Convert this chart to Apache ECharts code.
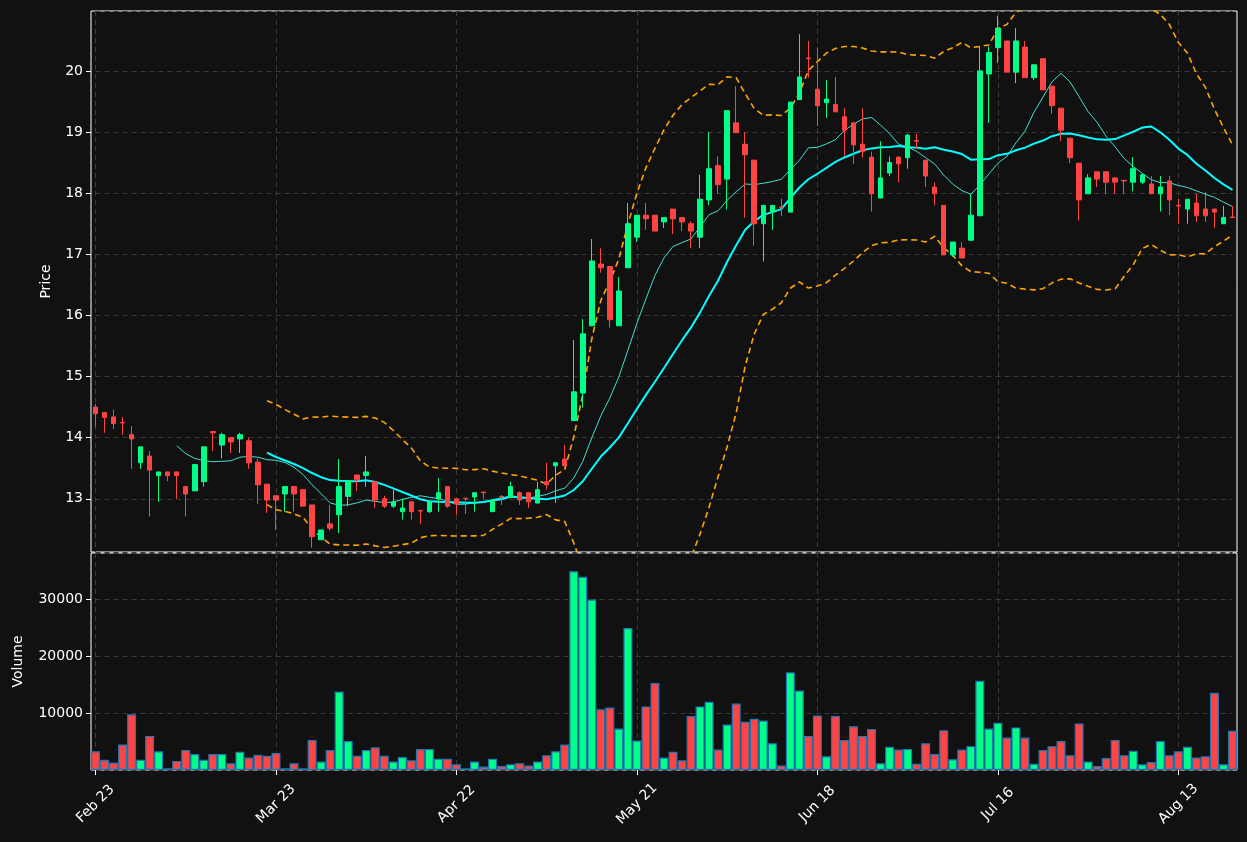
<!DOCTYPE html>
<html><head><meta charset="utf-8">
<script src="https://cdn.jsdelivr.net/npm/echarts@6/dist/echarts.min.js"></script>
<style>html,body{margin:0;padding:0;background:#111111;}#c{width:1247px;height:842px;}</style>
</head><body><div id="c"></div>
<script>
const tickLabels = ["Feb 23","Mar 23","Apr 22","May 21","Jun 18","Jul 16","Aug 13"];
// [open, close, low, high]
const ohlc = [
[14.50,14.39,14.18,14.55],[14.41,14.33,14.08,14.41],[14.34,14.23,14.14,14.46],[14.25,14.24,14.05,14.34],[14.05,13.98,13.49,14.19],
[13.59,13.85,13.49,13.85],[13.70,13.47,12.71,13.78],[13.38,13.44,12.95,13.44],[13.44,13.38,13.29,13.44],[13.44,13.38,13.00,13.44],
[13.20,13.08,12.71,13.20],[13.13,13.56,13.13,13.56],[13.28,13.85,13.20,13.85],[14.10,14.08,13.78,14.10],[13.88,14.05,13.66,14.08],
[14.00,13.93,13.75,14.00],[13.98,14.05,13.75,14.08],[13.95,13.59,13.49,14.00],[13.60,13.23,12.92,13.65],[13.24,12.98,12.77,13.24],
[13.05,12.98,12.49,13.05],[13.08,13.20,12.79,13.20],[13.20,13.08,12.79,13.20],[13.15,12.88,12.88,13.15],[12.90,12.38,12.20,12.90],
[12.33,12.49,12.33,12.49],[12.59,12.52,12.48,12.90],[12.74,13.20,12.44,13.65],[13.04,13.30,12.88,13.30],[13.39,13.31,13.13,13.39],
[13.38,13.44,13.20,13.70],[13.28,12.98,12.85,13.28],[13.00,12.88,12.85,13.05],[12.88,12.95,12.85,13.18],[12.79,12.85,12.66,13.00],
[12.95,12.79,12.66,12.95],[12.81,12.80,12.59,12.81],[12.79,12.95,12.77,12.95],[13.00,13.10,12.79,13.34],[13.20,12.88,12.85,13.20],
[13.00,12.92,12.74,13.00],[13.01,13.00,12.75,13.01],[13.03,13.10,12.79,13.10],[13.11,13.10,13.00,13.11],[12.79,12.98,12.79,12.98],
[13.04,13.03,12.90,13.06],[13.02,13.20,13.02,13.28],[13.10,12.98,12.90,13.12],[13.10,12.95,12.85,13.10],[12.93,13.15,12.93,13.28],
[13.28,13.23,13.15,13.59],[13.54,13.59,12.93,13.59],[13.65,13.54,13.54,13.88],[14.28,14.75,14.28,15.60],[14.73,15.70,14.49,15.94],
[15.83,16.89,15.83,17.25],[16.84,16.78,16.70,17.10],[16.80,15.93,15.80,16.80],[15.83,16.40,15.83,16.63],[16.78,17.50,16.78,17.84],
[17.28,17.64,17.20,17.64],[17.64,17.58,17.40,17.84],[17.64,17.38,17.38,17.64],[17.53,17.60,17.43,17.60],[17.74,17.58,17.33,17.74],
[17.60,17.53,17.38,17.60],[17.50,17.38,17.10,17.54],[17.28,17.90,17.10,18.30],[17.89,18.40,17.80,19.00],[18.45,18.14,17.99,18.60],
[18.23,19.35,17.73,19.35],[19.15,18.99,18.99,19.75],[18.80,18.63,17.60,19.00],[18.54,17.50,17.14,18.54],[17.50,17.80,16.88,17.80],
[17.69,17.80,17.40,17.80],[17.77,17.76,17.62,17.91],[17.69,19.49,17.69,19.49],[19.53,19.90,19.53,20.60],[20.21,20.20,19.89,20.49],
[19.70,19.43,19.10,20.38],[19.48,19.54,19.23,19.85],[19.45,19.33,19.33,19.90],[19.25,19.03,18.61,19.39],[19.15,18.79,18.48,19.15],
[18.80,18.68,18.58,19.39],[18.59,17.99,17.70,18.68],[17.92,18.25,17.92,18.85],[18.33,18.50,18.28,18.60],[18.59,18.48,18.18,18.60],
[18.58,18.95,18.40,18.97],[18.86,18.85,18.73,18.97],[18.54,18.28,18.10,18.54],[18.10,17.99,17.80,18.18],[17.80,16.99,16.99,17.80],
[16.99,17.20,16.96,17.20],[17.10,16.94,16.94,17.20],[17.23,17.64,17.23,17.99],[17.63,20.00,17.63,20.40],[19.95,20.30,19.15,20.40],
[20.38,20.70,20.13,20.90],[20.49,19.98,19.98,20.49],[19.98,20.49,19.80,20.70],[20.39,19.89,19.89,20.49],[19.89,20.10,19.85,20.10],
[20.20,19.69,19.69,20.20],[19.75,19.43,19.30,19.75],[19.39,19.03,18.85,19.39],[18.90,18.58,18.49,18.90],[18.49,17.89,17.55,18.49],
[17.99,18.25,17.99,18.31],[18.35,18.23,18.10,18.35],[18.35,18.18,17.99,18.35],[18.25,18.18,17.99,18.25],[18.21,18.20,17.99,18.21],
[18.18,18.40,18.03,18.59],[18.18,18.30,18.15,18.32],[18.15,17.99,17.99,18.28],[17.99,18.10,17.70,18.28],[18.20,17.89,17.64,18.28],
[17.80,17.79,17.50,17.91],[17.74,17.90,17.50,17.90],[17.84,17.63,17.53,17.99],[17.74,17.63,17.53,18.02],[17.74,17.69,17.43,17.74],
[17.50,17.60,17.50,17.79],[17.61,17.60,17.60,17.79]
];
const volume = [
3300,1800,1300,4500,9800,1800,6000,3300,300,1600,3500,2800,1800,2800,2800,1200,3200,2200,2700,2500,
3000,300,1200,300,5300,1500,3500,13800,5100,2500,3500,4000,2500,1500,2300,1700,3700,3700,2000,2000,
1000,300,1500,600,2000,700,1000,1200,800,1500,2600,3300,4500,35000,34000,30000,10700,11000,7300,25000,
5200,11200,15300,2200,3200,1700,9500,11200,12000,3600,8000,11700,8500,9000,8700,4700,800,17200,14000,6000,
9600,2400,9500,5300,7700,6000,7200,1200,4100,3600,3700,1100,4700,2800,7000,1900,3600,4200,15700,7300,
8300,5700,7500,5700,1100,3500,4200,5100,2600,8200,1500,700,2100,5300,2600,3400,1000,1400,5100,2600,
3300,4100,2200,2400,13600,1000,6900
];
const UP='#00ff88', DOWN='#ff4444';
const cats = ohlc.map((d,i)=>String(i));
const closes = ohlc.map(d=>d[1]);
function ma(n){return closes.map((c,i)=>{if(i<n-1)return '-';let s=0;for(let k=i-n+1;k<=i;k++)s+=closes[k];return +(s/n).toFixed(4);});}
const ma10=ma(10), ma20=ma(20);
const bbUp=[], bbLo=[];
closes.forEach((c,i)=>{if(i<19){bbUp.push('-');bbLo.push('-');return;}
 const m=ma20[i];let v=0;for(let k=i-19;k<=i;k++)v+=(closes[k]-m)**2;const sd=Math.sqrt(v/19);
 bbUp.push(+(m+2*sd).toFixed(4));bbLo.push(+(m-2*sd).toFixed(4));});
const candleData = ohlc.map(d=>[d[0],d[1],d[2],d[3]]);
const volData = volume.map((v,i)=>({value:v,itemStyle:{color: ohlc[i][1]>=ohlc[i][0]?UP:DOWN}}));
const txt={color:'#ffffff',fontSize:14,fontFamily:'DejaVu Sans'};
const splitLine={show:true,lineStyle:{color:'#3a3a3a',type:[5,4],width:1}};
const tickInt=(i)=>i%20===0;
const L=95.5, R=14.5;
const chart=echarts.init(document.getElementById('c'));
chart.setOption({
 backgroundColor:'#111111',animation:false,
 grid:[{left:L,right:R,top:11,height:541},{left:L,right:R,top:553,height:217},
       {left:91,right:10,top:11,height:541,show:true,borderColor:'#ffffff',borderWidth:1,backgroundColor:'transparent'},
       {left:91,right:10,top:553,height:217,show:true,borderColor:'#ffffff',borderWidth:1,backgroundColor:'transparent'}],
 xAxis:[
  {type:'category',data:cats,gridIndex:0,boundaryGap:false,
   axisLine:{show:false},axisTick:{show:false},axisLabel:{show:false},
   splitLine:Object.assign({interval:tickInt},splitLine)},
  {type:'category',data:cats,gridIndex:1,boundaryGap:false,position:'bottom',offset:0,
   axisLine:{show:false},
   axisTick:{show:true,interval:tickInt,length:5,lineStyle:{color:'#ffffff'}},
   axisLabel:Object.assign({interval:tickInt,rotate:45,margin:34,align:'center',verticalAlign:'middle',formatter:(v)=>tickLabels[(+v)/20]||''},txt),
   splitLine:Object.assign({interval:tickInt},splitLine)},
  {type:'value',gridIndex:2,show:false},{type:'value',gridIndex:3,show:false}
 ],
 yAxis:[
  {type:'value',gridIndex:0,min:12.13,max:20.98,splitNumber:9,offset:4.5,name:'Price',nameLocation:'middle',nameGap:38,nameTextStyle:txt,
   axisLine:{show:false},axisTick:{show:true,length:5,lineStyle:{color:'#ffffff'}},
   axisLabel:Object.assign({showMinLabel:false,showMaxLabel:false},txt),splitLine},
  {type:'value',gridIndex:1,min:0,max:38200,interval:10000,offset:4.5,name:'Volume',nameLocation:'middle',nameGap:66,nameTextStyle:txt,
   axisLine:{show:false},axisTick:{show:true,length:5,lineStyle:{color:'#ffffff'}},
   axisLabel:Object.assign({showMinLabel:false,showMaxLabel:false,formatter:(v)=>String(v)},txt),splitLine},
  {type:'value',gridIndex:2,show:false},{type:'value',gridIndex:3,show:false}
 ],
 series:[
  {type:'line',name:'BBU',data:bbUp,xAxisIndex:0,yAxisIndex:0,showSymbol:false,lineStyle:{color:'#ffa500',width:1.6,type:[6,4]},z:3},
  {type:'line',name:'BBL',data:bbLo,xAxisIndex:0,yAxisIndex:0,showSymbol:false,lineStyle:{color:'#ffa500',width:1.6,type:[6,4]},z:3},
  {type:'line',name:'MA10',data:ma10,xAxisIndex:0,yAxisIndex:0,showSymbol:false,lineStyle:{color:'#40e0d0',width:1},z:3},
  {type:'line',name:'MA20',data:ma20,xAxisIndex:0,yAxisIndex:0,showSymbol:false,lineStyle:{color:'#00ffff',width:2},z:3},
  {type:'candlestick',data:candleData,xAxisIndex:0,yAxisIndex:0,barWidth:5,z:4,clip:false,
   itemStyle:{color:UP,color0:DOWN,borderColor:UP,borderColor0:DOWN,borderWidth:1}},
  {type:'bar',data:volData,xAxisIndex:1,yAxisIndex:1,barWidth:9,clip:false,
   itemStyle:{borderColor:'#1f77b4',borderWidth:1.2}}
 ]
});
</script></body></html>
